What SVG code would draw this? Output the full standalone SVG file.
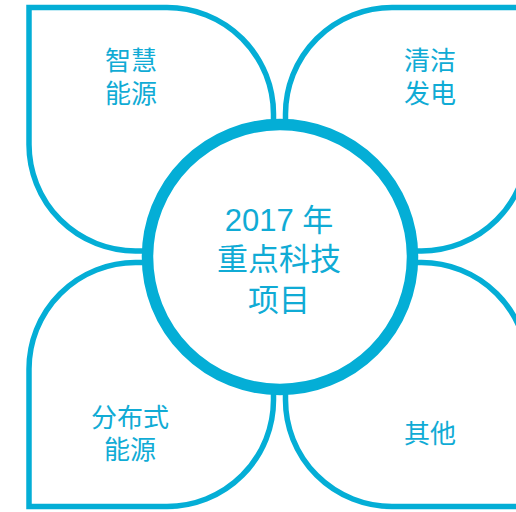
<svg xmlns="http://www.w3.org/2000/svg" width="516" height="512" viewBox="0 0 516 512">
  <style>
    .petal { fill: #ffffff; stroke: #04aed6; stroke-width: 5.5; stroke-linejoin: miter; }
    .hub { fill: #ffffff; stroke: #04aed6; stroke-width: 11.5; }
    .lbl { font-family: "Liberation Sans", "Noto Sans CJK SC", sans-serif; font-size: 26px; fill: #10abd5; text-anchor: middle; }
    .title { font-family: "Liberation Sans", "Noto Sans CJK SC", sans-serif; font-size: 31px; fill: #10abd5; text-anchor: middle; }
  </style>
  <rect width="516" height="512" fill="#ffffff"/>
  <g id="petal-smart-energy">
    <path class="petal" d="M29,7.5 H167 A106.5,106.5 0 0 1 273.5,114 V251 H135.5 A106.5,106.5 0 0 1 29,144.5 Z"/>
    <text class="lbl" x="131" y="70">智慧</text>
    <text class="lbl" x="131" y="102.5">能源</text>
  </g>
  <g id="petal-clean-power">
    <path class="petal" d="M285.5,251 V114 A106.5,106.5 0 0 1 392,7.5 H528 V144.5 A106.5,106.5 0 0 1 421.5,251 Z"/>
    <text class="lbl" x="430" y="70">清洁</text>
    <text class="lbl" x="430" y="102.5">发电</text>
  </g>
  <g id="petal-distributed-energy">
    <path class="petal" d="M29,506.5 V369 A106.5,106.5 0 0 1 135.5,262.5 H273.5 V400 A106.5,106.5 0 0 1 167,506.5 Z"/>
    <text class="lbl" x="130" y="427">分布式</text>
    <text class="lbl" x="130" y="458.5">能源</text>
  </g>
  <g id="petal-other">
    <path class="petal" d="M285.5,262.5 H421.5 A106.5,106.5 0 0 1 528,369 V506.5 H392 A106.5,106.5 0 0 1 285.5,400 Z"/>
    <text class="lbl" x="430" y="442.5">其他</text>
  </g>
  <g id="hub">
    <circle class="hub" cx="280" cy="257" r="132.5"/>
    <text class="title" x="279" y="231">2017 年</text>
    <text class="title" x="279" y="270">重点科技</text>
    <text class="title" x="279" y="311">项目</text>
  </g>
</svg>
